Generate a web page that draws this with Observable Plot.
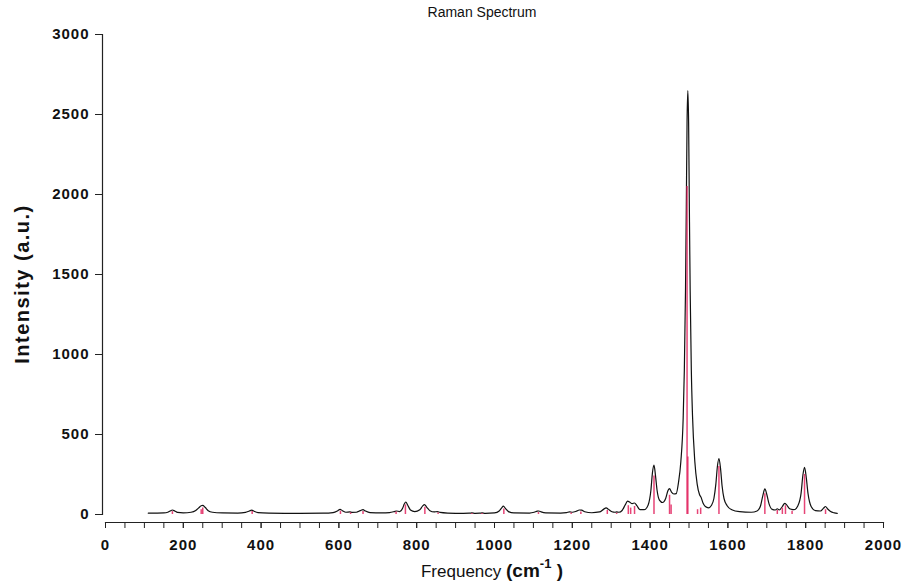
<!DOCTYPE html>
<html>
<head>
<meta charset="utf-8">
<script src="https://cdn.jsdelivr.net/npm/d3@7"></script>
<script src="https://cdn.jsdelivr.net/npm/@observablehq/plot@0.6"></script>
<style>
  html, body { margin: 0; padding: 0; background: #fff; }
  #chart { position: relative; width: 906px; height: 583px; }
  g[aria-label="y-axis tick label"] text,
  g[aria-label="x-axis tick label"] text { letter-spacing: 1px; }
</style>
</head>
<body>
<div id="chart"></div>
<script>
// ---- Data ----
const titleText = "Raman Spectrum";
const yLabelText = "Intensity (a.u.)";

// Broadened spectrum (black line): frequency (cm^-1) and intensity (a.u.)
const specFreq = [110,150,160,166,172,178,185,200,220,232,240,246,250,256,264,275,300,340,360,370,376,382,392,420,500,560,585,596,603,609,618,628,634,645,655,662,668,680,710,730,742,748,756,764,768,772,777,784,795,808,815,820,826,834,845,853,860,880,920,935,942,950,962,968,976,1000,1012,1018,1023,1028,1036,1050,1090,1102,1110,1114,1120,1132,1170,1185,1193,1200,1210,1218,1224,1232,1250,1270,1280,1287,1293,1302,1310,1314,1320,1328,1336,1342,1348,1354,1360,1366,1374,1385,1395,1402,1406,1410,1414,1418,1424,1432,1440,1446,1450,1455,1461,1467,1473,1479,1485,1488,1491,1493,1495,1497,1499,1501,1503,1506,1509,1515,1521,1527,1531,1536,1542,1550,1558,1564,1569,1573,1577,1581,1585,1590,1598,1610,1630,1660,1675,1684,1690,1695,1700,1706,1714,1722,1727,1732,1740,1746,1751,1758,1764,1770,1780,1788,1793,1797,1801,1806,1814,1825,1838,1846,1851,1856,1864,1874,1881];
const specInt  = [8,10,14,22,28,22,13,10,14,25,42,55,57,45,24,14,10,9,13,22,27,20,12,9,7,8,12,22,32,24,14,16,13,14,24,30,22,12,10,12,18,22,18,40,65,78,58,28,18,30,52,62,45,24,16,18,13,9,7,8,10,7,8,10,7,10,22,40,52,38,18,10,9,14,21,22,16,10,9,12,17,14,20,28,27,17,11,16,32,42,32,17,14,16,14,25,60,84,76,68,72,55,30,30,60,150,260,308,240,150,90,75,100,150,162,140,128,130,200,330,600,900,1400,1900,2450,2650,2450,1900,1400,900,620,330,190,125,108,72,50,42,58,100,190,300,350,290,180,100,55,30,18,14,22,55,120,160,125,65,32,28,36,28,50,70,60,38,32,30,55,130,250,295,240,130,50,24,22,40,50,36,18,10,7];

// Stick spectrum (red): frequency and intensity
const stickFreq = [172,246,250,377,604,630,662,747,771,821,855,942,968,1024,1113,1197,1222,1290,1314,1344,1350,1360,1410,1450,1454,1495,1497,1522,1530,1577,1695,1727,1740,1748,1765,1797,1851];
const stickInt  = [18,30,40,18,20,10,18,15,60,45,10,6,6,35,12,10,15,25,8,55,40,50,240,120,60,2050,360,30,40,300,130,25,40,55,20,250,30];

// Axis ticks
const yTicks = [0,500,1000,1500,2000,2500,3000];
const xMajor = [0,200,400,600,800,1000,1200,1400,1600,1800,2000];
const xMinor = d3.range(0, 2001, 50);

// ---- Tables ----
const spectrum = specFreq.map((f, i) => ({f, i: specInt[i]}));
const sticks = stickFreq.map((f, i) => ({f, i: stickInt[i]}));

const font = "'Liberation Sans', Arial, Helvetica, sans-serif";
const fmt = d3.format("d");

const plot = Plot.plot({
  width: 906,
  height: 583,
  marginLeft: 102,
  marginRight: 23,
  marginTop: 34,
  marginBottom: 61,
  style: {fontFamily: font, background: "#fff", color: "#111"},
  x: {domain: [0, 2000], insetLeft: 3},
  y: {domain: [0, 3000], insetBottom: 8},
  marks: [
    Plot.frame({anchor: "left", insetBottom: 8, stroke: "#222", strokeWidth: 1.2}),
    Plot.frame({anchor: "bottom", insetLeft: 3, stroke: "#222", strokeWidth: 1.2}),
    Plot.axisY({ticks: yTicks, tickFormat: fmt, tickSize: 7, tickPadding: 6, fontSize: 15, fontWeight: "bold", label: null, stroke: "#222"}),
    Plot.axisX({ticks: xMinor, tickSize: 6, tickFormat: () => "", label: null, stroke: "#222"}),
    Plot.axisX({ticks: xMajor, tickFormat: fmt, tickSize: 6, tickPadding: 11, fontSize: 15, fontWeight: "bold", label: null, stroke: "#222"}),
    Plot.line(spectrum, {x: "f", y: "i", stroke: "#111", strokeWidth: 1.2, curve: "monotone-x"}),
    Plot.ruleX(sticks, {x: "f", y1: 0, y2: "i", stroke: "#e2245f", strokeWidth: 1.5, strokeOpacity: 0.85})
  ]
});

document.getElementById("chart").appendChild(plot);

// ---- Text labels ----
const svg = d3.select(plot);
svg.append("text")
  .attr("x", 482).attr("y", 17)
  .attr("text-anchor", "middle")
  .style("font-family", font).style("font-size", "14px").style("fill", "#111")
  .text(titleText);

svg.append("text")
  .attr("transform", "translate(29,284) rotate(-90)")
  .attr("text-anchor", "middle")
  .style("font-family", font).style("font-size", "20px").style("font-weight", "bold")
  .style("letter-spacing", "1.5px").style("fill", "#111")
  .text(yLabelText);

const xl = svg.append("text")
  .attr("x", 492).attr("y", 577)
  .attr("text-anchor", "middle")
  .style("font-family", font).style("fill", "#111");
xl.append("tspan").style("font-size", "17px").text("Frequency ");
xl.append("tspan").style("font-size", "19px").style("font-weight", "bold").text("(cm");
xl.append("tspan").style("font-size", "13px").style("font-weight", "bold").attr("dy", -9).text("-1");
xl.append("tspan").style("font-size", "19px").style("font-weight", "bold").attr("dy", 9).text(" )");
</script>
</body>
</html>
